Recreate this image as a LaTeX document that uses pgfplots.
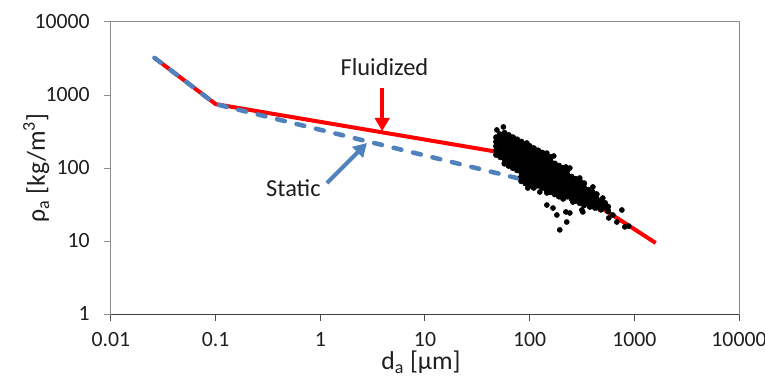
\documentclass[border=0pt]{standalone}
\usepackage{fontspec}
\setmainfont{Carlito}
\usepackage{pgfplots}
\pgfplotsset{compat=1.18}
\usetikzlibrary{arrows.meta}
\definecolor{redl}{RGB}{255,0,0}
\definecolor{bluel}{RGB}{79,129,189}
\definecolor{axgray}{RGB}{140,140,140}
\definecolor{txt}{RGB}{30,30,30}

\pgfplotstableread{
x y
47.9 151.4
47.9 173.8
47.9 199.5
47.9 229.1
47.9 263
52.5 141.3
52.5 162.2
52.5 186.2
52.5 213.8
52.5 245.5
52.5 281.8
57.5 114.8
57.5 131.8
57.5 151.4
57.5 173.8
57.5 199.5
57.5 229.1
57.5 263
57.5 302
63.1 107.2
63.1 123
63.1 141.3
63.1 162.2
63.1 186.2
63.1 213.8
63.1 245.5
63.1 281.8
69.2 100
69.2 114.8
69.2 131.8
69.2 151.4
69.2 173.8
69.2 199.5
69.2 229.1
69.2 263
75.9 93.3
75.9 107.2
75.9 123
75.9 141.3
75.9 162.2
75.9 186.2
75.9 213.8
75.9 245.5
83.2 66.1
83.2 75.9
83.2 87.1
83.2 100
83.2 114.8
83.2 131.8
83.2 151.4
83.2 173.8
83.2 199.5
83.2 229.1
91.2 61.7
91.2 70.8
91.2 81.3
91.2 93.3
91.2 107.2
91.2 123
91.2 141.3
91.2 162.2
91.2 186.2
91.2 213.8
100 57.5
100 66.1
100 75.9
100 87.1
100 100
100 114.8
100 131.8
100 151.4
100 173.8
100 199.5
109.6 53.7
109.6 61.7
109.6 70.8
109.6 81.3
109.6 93.3
109.6 107.2
109.6 123
109.6 141.3
109.6 162.2
109.6 186.2
120.2 57.5
120.2 66.1
120.2 75.9
120.2 87.1
120.2 100
120.2 114.8
120.2 131.8
120.2 151.4
120.2 173.8
131.8 53.7
131.8 61.7
131.8 70.8
131.8 81.3
131.8 93.3
131.8 107.2
131.8 123
131.8 141.3
131.8 162.2
144.5 50.1
144.5 57.5
144.5 66.1
144.5 75.9
144.5 87.1
144.5 100
144.5 114.8
144.5 131.8
144.5 151.4
158.5 46.8
158.5 53.7
158.5 61.7
158.5 70.8
158.5 81.3
158.5 93.3
158.5 107.2
158.5 123
158.5 141.3
173.8 43.7
173.8 50.1
173.8 57.5
173.8 66.1
173.8 75.9
173.8 87.1
173.8 100
173.8 114.8
190.5 40.7
190.5 46.8
190.5 53.7
190.5 61.7
190.5 70.8
190.5 81.3
190.5 93.3
190.5 107.2
208.9 38.0
208.9 43.7
208.9 50.1
208.9 57.5
208.9 66.1
208.9 75.9
208.9 87.1
208.9 100
229.1 40.7
229.1 46.8
229.1 53.7
229.1 61.7
229.1 70.8
229.1 81.3
229.1 93.3
251.2 38.0
251.2 43.7
251.2 50.1
251.2 57.5
251.2 66.1
251.2 75.9
275.4 35.5
275.4 40.7
275.4 46.8
275.4 53.7
275.4 61.7
275.4 70.8
302 33.1
302 38.0
302 43.7
302 50.1
302 57.5
302 66.1
331.1 30.9
331.1 35.5
331.1 40.7
331.1 46.8
331.1 53.7
331.1 61.7
363.1 33.1
363.1 38.0
363.1 43.7
363.1 50.1
398.1 30.9
398.1 35.5
398.1 40.7
398.1 46.8
436.5 28.8
436.5 33.1
436.5 38.0
436.5 43.7
478.6 26.9
478.6 30.9
478.6 35.5
524.8 28.8
524.8 33.1
560 25.5
560 29.5
}\core

\pgfplotstableread{
x y
56.1 365
48.6 332
51.9 292
94 220
146 160
170 146
221.8 103.2
242 100
301 73
402 55
500 38.8
96 53.2
125 46.9
146 45.5
259 36.5
376 29.2
146 31.1
167 28.3
182 22.7
226 18.2
194 14.2
222 25
259 34.2
242 24.2
315 26.6
322 25
420 28.3
558 26.6
570 20.7
624 22.7
681 18.2
760 26.6
811 15.6
885 16.0
}\edge

\begin{document}
\begin{tikzpicture}
\begin{axis}[
  scale only axis, width=471pt, height=219pt,
  xmode=log, ymode=log,
  xmin=0.01, xmax=10000, ymin=1, ymax=10000,
  xtick={0.01,0.1,1,10,100,1000,10000},
  xticklabels={0.01,0.1,1,10,100,1000,10000},
  ytick={1,10,100,1000,10000},
  yticklabels={1,10,100,1000,10000},
  xminorticks=false, yminorticks=false,
  tick align=outside, xtick pos=bottom, ytick pos=left,
  major tick length=5pt,
  axis line style={axgray, line width=0.75pt},
  every tick/.style={axgray, line width=0.75pt},
  x tick style={black!70},
  ticklabel style={font=\fontsize{16.3}{19}\selectfont, text=txt},
  yticklabel style={anchor=east, inner sep=0pt},
  xticklabel style={anchor=north, inner sep=0pt},
  yticklabel shift=10.75pt,
  xticklabel shift=8.5pt,
  xlabel={d\textsubscript{a} [µm]},
  ylabel={ρ\textsubscript{a} [kg/m\textsuperscript{3}]},
  label style={font=\fontsize{19.3}{23}\selectfont, text=txt, inner sep=0pt},
  xlabel style={at={([xshift=-3pt,yshift=-41.5pt]axis description cs:0.5,0)}, anchor=base},
  ylabel style={at={([xshift=-49.5pt]axis description cs:0,0.5)}, anchor=base},
]
\addplot[redl, line width=3pt, line join=round] coordinates {
  (0.026,3230) (0.1,750) (82,147) (1600,9.4)};
\addplot[bluel, line width=3.4pt, line cap=round, line join=round, dash pattern=on 6pt off 9pt] coordinates {
  (0.026,3230) (0.1,750) (100,66)};
\addplot[only marks, mark=*, mark size=2.1pt, black] table {\core};
\addplot[only marks, mark=*, mark size=1.9pt, black] table {\edge};
\draw[black!75, line width=0.75pt] (rel axis cs:0,0) -- (rel axis cs:1,0);
\draw[redl, line width=3pt, -{Triangle[length=10pt,width=11pt]}] (axis cs:3.9,1247) -- (axis cs:3.9,320);
\draw[bluel, line width=3pt, -{Triangle[length=10pt,width=11pt]}] (axis cs:1.156,62.3) -- (axis cs:2.79,220);
\node[anchor=base, font=\fontsize{18.3}{22}\selectfont, text=txt] at (axis cs:4.1,1879) {Fluidized};
\node[anchor=base, font=\fontsize{18.3}{22}\selectfont, text=txt] at (axis cs:0.553,40.1) {Static};
\end{axis}
\pgfresetboundingbox
\path ([shift={(-83.25pt,-47.25pt)}]current axis.south west) rectangle ([shift={(19.5pt,16.5pt)}]current axis.north east);
\end{tikzpicture}
\end{document}
